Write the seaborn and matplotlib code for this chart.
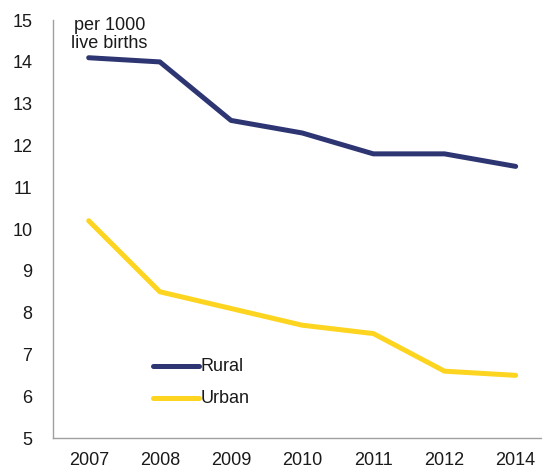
import matplotlib
matplotlib.use("Agg")
import matplotlib.pyplot as plt
import pandas as pd
import seaborn as sns

years = ["2007", "2008", "2009", "2010", "2011", "2012", "2014"]
rural = [14.1, 14.0, 12.6, 12.3, 11.8, 11.8, 11.5]
urban = [10.2, 8.5, 8.1, 7.7, 7.5, 6.6, 6.5]

df = pd.DataFrame({"year": years * 2,
                   "rate": rural + urban,
                   "area": ["Rural"] * len(years) + ["Urban"] * len(years)})

sns.set_theme(style="white")
plt.rcParams['font.family'] = ['Liberation Sans', 'DejaVu Sans']

fig = plt.figure(figsize=(5.42, 4.68), dpi=100)
ax = fig.add_axes([0.098, 0.064, 0.902, 0.893])

sns.lineplot(data=df, x="year", y="rate", hue="area", sort=False,
             palette={"Rural": "#2D3672", "Urban": "#FDD520"},
             linewidth=3.6, ax=ax, legend=False,
             solid_capstyle="round", solid_joinstyle="round")

ax.set_ylim(5, 15)
ax.set_xlim(-0.5, 6.37)
ax.set_yticks(range(5, 16))
ax.set_xlabel("")
ax.set_ylabel("")
ax.tick_params(axis='both', length=0, labelsize=13, colors='#1a1a1a')
ax.tick_params(axis='y', pad=15)
ax.tick_params(axis='x', pad=10)
for s in ["top", "right"]:
    ax.spines[s].set_visible(False)
for s in ["left", "bottom"]:
    ax.spines[s].set_color("#a0a0a0")
    ax.spines[s].set_linewidth(1.0)

ax.text(0.29, 14.66, "per 1000\nlive births", ha="center", va="center",
        fontsize=13, linespacing=1.05, color="#1a1a1a")

# legend
for i, (name, col) in enumerate([("Rural", "#2D3672"), ("Urban", "#FDD520")]):
    yy = 6.72 - i * 0.77
    ax.plot([0.9, 1.55], [yy, yy], color=col, linewidth=3.6, solid_capstyle="round")
    ax.text(1.57, yy, name, ha="left", va="center", fontsize=13, color="#1a1a1a")

fig.savefig("out.png", dpi=100)
